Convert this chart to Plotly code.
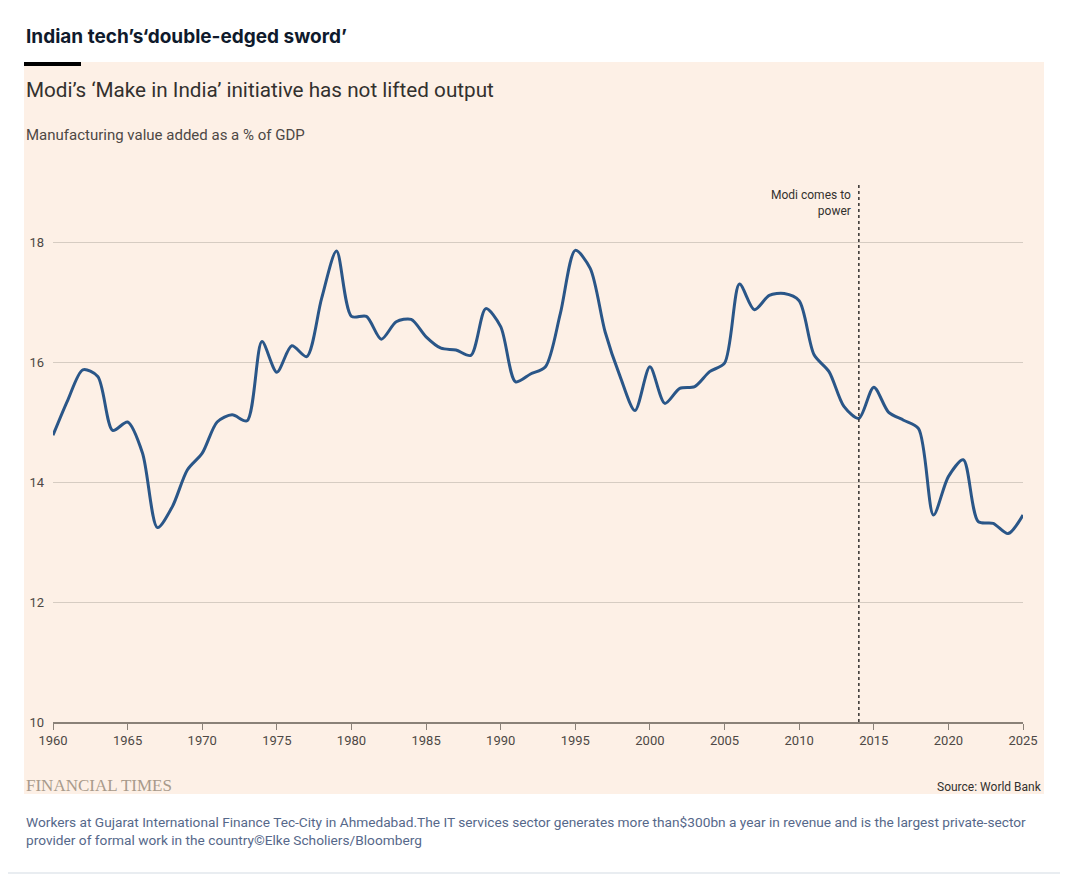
import plotly.graph_objects as go

# Manufacturing value added, % of GDP (World Bank)
years = list(range(1960, 2026))
mva_pct = [
    14.78, 15.37, 15.87, 15.76, 14.86, 15.00, 14.48, 13.24, 13.59, 14.20,
    14.48, 15.00, 15.12, 15.02, 16.34, 15.83, 16.27, 16.09, 17.06, 17.85,
    16.76, 16.76, 16.38, 16.67, 16.71, 16.42, 16.23, 16.20, 16.11, 16.89,
    16.59, 15.67, 15.80, 15.92, 16.81, 17.86, 17.56, 16.50, 15.76, 15.19,
    15.92, 15.31, 15.56, 15.59, 15.84, 15.98, 17.30, 16.87, 17.11, 17.14,
    17.02, 16.12, 15.84, 15.26, 15.06, 15.58, 15.16, 15.03, 14.89, 13.45,
    14.09, 14.37, 13.34, 13.31, 13.14, 13.45,
]
x_ticks = list(range(1960, 2026, 5))
y_ticks = [10, 12, 14, 16, 18]
modi_year = 2014

# the page puts the figure 8px in from the window corner, so work in window px
OFF = 8
W, H = 1068 - OFF, 874 - OFF
L, R, T, B = 53 - OFF, 45, 182 - OFF, 152
pw, ph = W - L - R, H - T - B


def px_x(p):
    return (p - OFF - L) / pw


def px_y(p):
    return (H - B - (p - OFF)) / ph


fig = go.Figure()
fig.add_trace(go.Scatter(
    x=years, y=mva_pct, mode="lines",
    line=dict(color="#2a5688", width=3, shape="spline", smoothing=0.8),
    hoverinfo="x+y", showlegend=False,
))

# page border + pink panel + black rule
fig.add_shape(type="rect", xref="paper", yref="paper",
              x0=px_x(OFF - 4), x1=px_x(1067), y0=px_y(873), y1=px_y(OFF - 4),
              line=dict(color="#e9edf1", width=2), fillcolor="white", layer="below")
fig.add_shape(type="rect", xref="paper", yref="paper",
              x0=px_x(24), x1=px_x(1044), y0=px_y(794), y1=px_y(62),
              line_width=0, fillcolor="#fdf0e6", layer="below")
fig.add_shape(type="rect", xref="paper", yref="paper",
              x0=px_x(24), x1=px_x(81), y0=px_y(66), y1=px_y(62),
              line_width=0, fillcolor="black", layer="above")

# Modi line
fig.add_shape(type="line", xref="x", yref="paper",
              x0=modi_year, x1=modi_year, y0=0, y1=1,
              line=dict(color="#33302e", width=1.5, dash="dot"))
fig.add_annotation(x=modi_year, y=px_y(186), xref="x", yref="paper",
                   text="Modi comes to<br>power", showarrow=False,
                   xanchor="right", yanchor="top", align="right", xshift=-6,
                   font=dict(size=12, color="#33302e"))

fig.add_annotation(x=px_x(24), y=px_y(36), xref="paper", yref="paper",
                   text="<b>Indian tech’s‘double-edged sword’</b>", showarrow=False,
                   xanchor="left", yanchor="middle",
                   font=dict(size=19, color="#0f1a2c", family="Inter"))
fig.add_annotation(x=px_x(24), y=px_y(90), xref="paper", yref="paper",
                   text="Modi’s ‘Make in India’ initiative has not lifted output", showarrow=False,
                   xanchor="left", yanchor="middle",
                   font=dict(size=20.7, color="#33302e"))
fig.add_annotation(x=px_x(24), y=px_y(135), xref="paper", yref="paper",
                   text="Manufacturing value added as a % of GDP", showarrow=False,
                   xanchor="left", yanchor="middle",
                   font=dict(size=15, color="#4d4845"))
fig.add_annotation(x=px_x(24), y=px_y(785), xref="paper", yref="paper",
                   text="FINANCIAL TIMES", showarrow=False,
                   xanchor="left", yanchor="middle",
                   font=dict(size=17, color="#a89a8b", family="Liberation Serif"))
fig.add_annotation(x=px_x(1044), y=px_y(787), xref="paper", yref="paper",
                   text="Source: World Bank", showarrow=False,
                   xanchor="right", yanchor="middle",
                   font=dict(size=12, color="#33302e"))
fig.add_annotation(x=px_x(24), y=px_y(831), xref="paper", yref="paper",
                   text="Workers at Gujarat International Finance Tec-City in Ahmedabad.The IT services sector generates more than$300bn a year in revenue and is the largest private-sector<br>provider of formal work in the country©Elke Scholiers/Bloomberg",
                   showarrow=False, xanchor="left", yanchor="middle", align="left",
                   font=dict(size=13.7, color="#56688a"))

fig.update_xaxes(range=[1960, 2025], tickvals=x_ticks, showgrid=False, zeroline=False,
                 showline=True, linecolor="#8a8178", linewidth=1.5,
                 ticks="outside", ticklen=6, tickcolor="#8a8178",
                 tickfont=dict(size=13, color="#4d4845"))
fig.update_yaxes(range=[10, 19], tickvals=y_ticks, showgrid=True, gridcolor="#d6ccc2",
                 zeroline=False, showline=False, ticks="", ticklabelstandoff=8,
                 tickfont=dict(size=13, color="#4d4845"))

fig.update_layout(
    width=W, height=H,
    margin=dict(l=L, r=R, t=T, b=B, autoexpand=False),
    paper_bgcolor="white", plot_bgcolor="rgba(0,0,0,0)",
    font=dict(family="Roboto", color="#33302e"),
    showlegend=False,
)

fig.write_html("out.html")
